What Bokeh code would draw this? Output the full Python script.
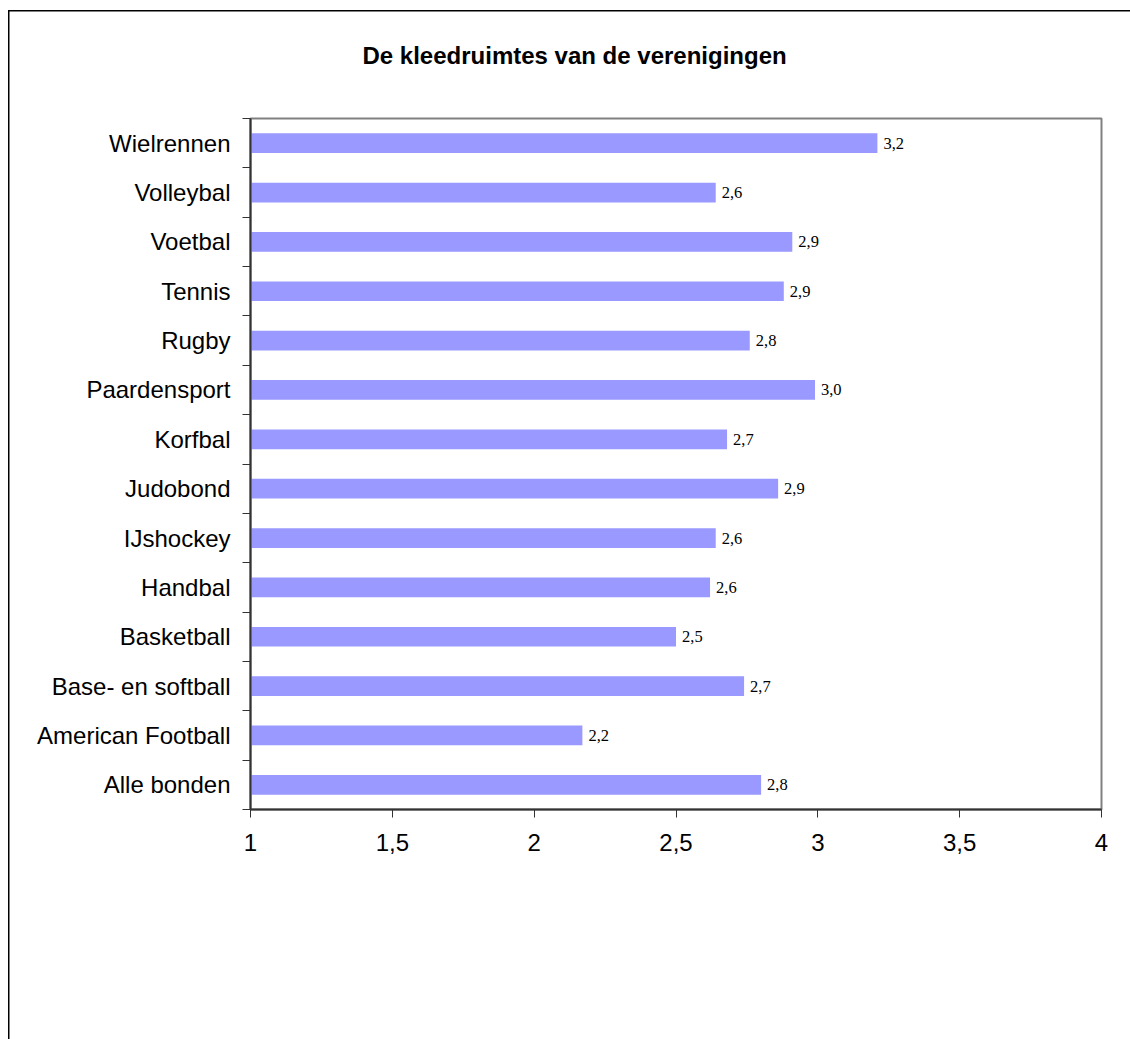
from bokeh.plotting import figure
from bokeh.models import (ColumnDataSource, Range1d, FixedTicker, LabelSet, CustomJSTickFormatter, Title)
from bokeh.embed import file_html
from bokeh.resources import INLINE
from bokeh.core.properties import value

categories = ["Alle bonden", "American Football", "Base- en softball", "Basketball",
              "Handbal", "IJshockey", "Judobond", "Korfbal", "Paardensport",
              "Rugby", "Tennis", "Voetbal", "Volleybal", "Wielrennen"]
scores = [2.80, 2.17, 2.74, 2.50, 2.62, 2.64, 2.86, 2.68, 2.99, 2.76, 2.88, 2.91, 2.64, 3.21]
x_ticks = [1, 1.5, 2, 2.5, 3, 3.5, 4]
title_text = "De kleedruimtes van de verenigingen"

pos = list(range(len(categories)))
labels = [f"{v:.1f}".replace(".", ",") for v in scores]

src = ColumnDataSource(dict(y=pos, v=scores, left=[1] * len(scores), lab=labels))

p = figure(output_backend="svg", toolbar_location=None,
           frame_width=851, frame_height=691,
           min_border_left=250, min_border_top=117, min_border_right=29, min_border_bottom=231,
           x_range=Range1d(1, 4), y_range=Range1d(-0.5, len(categories) - 0.5),
           background_fill_color="white", border_fill_color=None)

# outer chart border drawn behind the (transparent) canvas: left and top edges
p.styles = {
    "background": "linear-gradient(#000,#000) 8px 10px / 1.5px 100% no-repeat, "
                  "linear-gradient(#000,#000) 8px 10px / 100% 1.5px no-repeat, #ffffff"
}

p.title.text = title_text
p.title.align = "left"
p.title.offset = 112
p.title.standoff = 78
p.title.text_font = "Liberation Sans"
p.title.text_font_size = "24px"
p.title.text_font_style = "bold"
p.title.text_color = "black"

# small spacer between title and plot area, pushing the title upwards
p.add_layout(Title(text=" ", text_font_size="2px", standoff=7), "above")

p.hbar(y="y", left="left", right="v", height=0.4, source=src,
       fill_color="#9999FF", line_color=None)

p.add_layout(LabelSet(x="v", y="y", text="lab", source=src, x_offset=6,
                      text_baseline="middle", text_align="left",
                      text_font=value("Liberation Serif"), text_font_size="16.5px",
                      text_color="black"))

p.grid.visible = False
p.outline_line_color = "#808080"
p.outline_line_width = 2

# x axis
xa = p.xaxis[0]
xa.ticker = FixedTicker(ticks=x_ticks)
xa.formatter = CustomJSTickFormatter(code="return tick.toString().replace('.', ',');")
xa.major_label_text_font = "Liberation Sans"
xa.major_label_text_font_size = "24px"
xa.major_label_text_color = "black"
xa.major_tick_in = 0
xa.major_tick_out = 8
xa.minor_tick_line_color = None
xa.major_label_standoff = 16
xa.axis_line_color = "#333333"
xa.axis_line_width = 2
xa.major_tick_line_color = "#333333"

# y axis
ya = p.yaxis[0]
ya.ticker = FixedTicker(ticks=pos, minor_ticks=[i - 0.5 for i in range(len(categories) + 1)])
ya.major_label_overrides = {i: c for i, c in enumerate(categories)}
ya.major_label_text_font = "Liberation Sans"
ya.major_label_text_font_size = "24px"
ya.major_label_text_color = "black"
ya.major_tick_line_color = None
ya.major_tick_in = 0
ya.major_tick_out = 0
ya.minor_tick_in = 0
ya.minor_tick_out = 8
ya.minor_tick_line_color = "#333333"
ya.major_label_standoff = 12
ya.axis_line_color = "#333333"
ya.axis_line_width = 2

open("out.html", "w").write(file_html(p, INLINE))
